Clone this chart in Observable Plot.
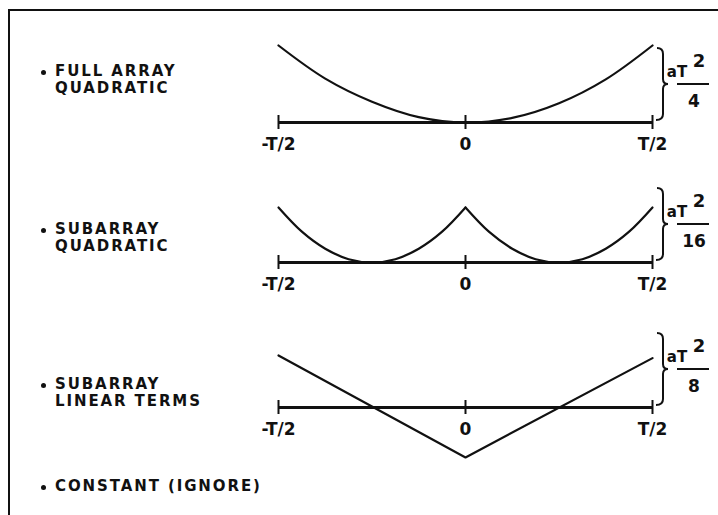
<!DOCTYPE html>
<html>
<head>
<meta charset="utf-8">
<script src="https://cdn.jsdelivr.net/npm/d3@7"></script>
<script src="https://cdn.jsdelivr.net/npm/@observablehq/plot@0.6"></script>
<style>
  html, body { margin: 0; padding: 0; background: #fff; }
  #wrap { position: relative; width: 718px; height: 515px; overflow: hidden; background: #fff; font-family: "DejaVu Sans", sans-serif; color: #111; }
  .btop { position: absolute; left: 8px; top: 9px; width: 730px; height: 2px; background: #111; }
  .bleft { position: absolute; left: 8px; top: 9px; width: 2px; height: 530px; background: #111; }
  .lab { position: absolute; left: 55px; font-weight: bold; font-size: 15px; letter-spacing: 1.9px; line-height: 17px; white-space: nowrap; }
  .bul { position: absolute; left: 41px; width: 5px; height: 5px; border-radius: 50%; background: #111; }
  .panel { position: absolute; left: 0; }
</style>
</head>
<body>
<div id="wrap">
  <div class="btop"></div>
  <div class="bleft"></div>
</div>
<script>
// ---- data ----
const xTicks = [-0.5, 0, 0.5];
const tickLabels = ["-T/2", "0", "T/2"];

// panel 1: full array quadratic (units of aT^2/4)
const fullX = [-0.5, -0.375, -0.25, -0.125, 0, 0.125, 0.25, 0.375, 0.5];
const fullY = [1, 0.57, 0.27, 0.07, 0, 0.06, 0.25, 0.56, 1];

// panel 2: subarray quadratic (units of aT^2/16), two halves
const subX = [-0.5, -0.4375, -0.375, -0.3125, -0.25, -0.1875, -0.125, -0.0625, 0,
              0, 0.0625, 0.125, 0.1875, 0.25, 0.3125, 0.375, 0.4375, 0.5];
const subY = [1, 0.56, 0.25, 0.06, 0, 0.06, 0.25, 0.56, 1,
              1, 0.56, 0.25, 0.06, 0, 0.06, 0.25, 0.56, 1];
const subHalf = ["L","L","L","L","L","L","L","L","L","R","R","R","R","R","R","R","R","R"];

// panel 3: subarray linear terms (units of aT^2/8)
const linX = [-0.5, 0, 0.5];
const linY = [1.0, -0.96, 0.95];

const rowLabels = [["FULL ARRAY", "QUADRATIC"], ["SUBARRAY", "QUADRATIC"], ["SUBARRAY", "LINEAR TERMS"], ["CONSTANT (IGNORE)"]];
const denominators = ["4", "16", "8"];

// ---- helpers ----
const wrap = document.getElementById("wrap");
const FONT = "DejaVu Sans, sans-serif";

function braceMark(denom) {
  return (index, scales, values, dims, context) => {
    const X = scales.x(0.5), Y0 = scales.y(0);
    const g = d3.create("svg:g").attr("fill", "none").attr("stroke", "#111");
    const bx = X + 11, top = Y0 - 74, bot = Y0 - 2, mid = (top + bot) / 2;
    g.append("path")
      .attr("stroke-width", 2)
      .attr("d", `M${bx-6},${top} Q${bx},${top} ${bx},${top+6} L${bx},${mid-5} Q${bx},${mid} ${bx+5},${mid} Q${bx},${mid} ${bx},${mid+5} L${bx},${bot-6} Q${bx},${bot} ${bx-7},${bot}`);
    g.append("line").attr("stroke-width", 2)
      .attr("x1", X + 25).attr("x2", X + 57).attr("y1", Y0 - 38).attr("y2", Y0 - 38);
    const t = g.append("g").attr("fill", "#111").attr("stroke", "none")
      .attr("font-family", FONT).attr("font-weight", "bold");
    t.append("text").attr("x", X + 25).attr("y", Y0 - 45).attr("font-size", 15).text("aT");
    t.append("text").attr("x", X + 47).attr("y", Y0 - 55).attr("font-size", 18).text("2");
    t.append("text").attr("x", X + 42).attr("y", Y0 - 15).attr("font-size", 17)
      .attr("text-anchor", "middle").text(denom);
    return g.node();
  };
}

function panel({top, height, mt, mb, yDomain, lineMark, denom}) {
  const svg = Plot.plot({
    width: 718, height,
    marginLeft: 278, marginRight: 66, marginTop: mt, marginBottom: mb,
    style: {background: "transparent", overflow: "visible"},
    x: {domain: [-0.5, 0.5], axis: null},
    y: {domain: yDomain, axis: null},
    marks: [
      Plot.ruleY([0], {stroke: "#111", strokeWidth: 2.8}),
      Plot.ruleX(xTicks, {x: d => d, y1: 0, y2: 0, insetTop: -7, insetBottom: -7, stroke: "#111", strokeWidth: 2}),
      Plot.text(xTicks, {x: d => d, y: 0, text: (d, i) => tickLabels[i], dy: 22,
        fontSize: 17, fontWeight: "bold", fontFamily: FONT, fill: "#111", letterSpacing: 1.5}),
      lineMark,
      braceMark(denom)
    ]
  });
  svg.classList.add("panel");
  svg.style.top = top + "px";
  wrap.appendChild(svg);
}

panel({
  top: 0, height: 165, mt: 45, mb: 43, yDomain: [0, 1], denom: denominators[0],
  lineMark: Plot.line(fullX.map((x, i) => ({x, y: fullY[i]})),
    {x: "x", y: "y", curve: "catmull-rom", stroke: "#111", strokeWidth: 2.2})
});
panel({
  top: 165, height: 155, mt: 42, mb: 58, yDomain: [0, 1], denom: denominators[1],
  lineMark: Plot.line(subX.map((x, i) => ({x, y: subY[i], z: subHalf[i]})),
    {x: "x", y: "y", z: "z", curve: "catmull-rom", stroke: "#111", strokeWidth: 2.2})
});
panel({
  top: 320, height: 195, mt: 35, mb: 56, yDomain: [-1, 1], denom: denominators[2],
  lineMark: Plot.line(linX.map((x, i) => ({x, y: linY[i]})),
    {x: "x", y: "y", stroke: "#111", strokeWidth: 2.2})
});

// left row labels
const labelTops = [63, 221, 376, 478];
rowLabels.forEach((lines, k) => {
  const d = document.createElement("div");
  d.className = "lab";
  d.style.top = labelTops[k] + "px";
  d.innerHTML = lines.join("<br>");
  wrap.appendChild(d);
  const b = document.createElement("div");
  b.className = "bul";
  b.style.top = (labelTops[k] + 7) + "px";
  wrap.appendChild(b);
});
</script>
</body>
</html>
